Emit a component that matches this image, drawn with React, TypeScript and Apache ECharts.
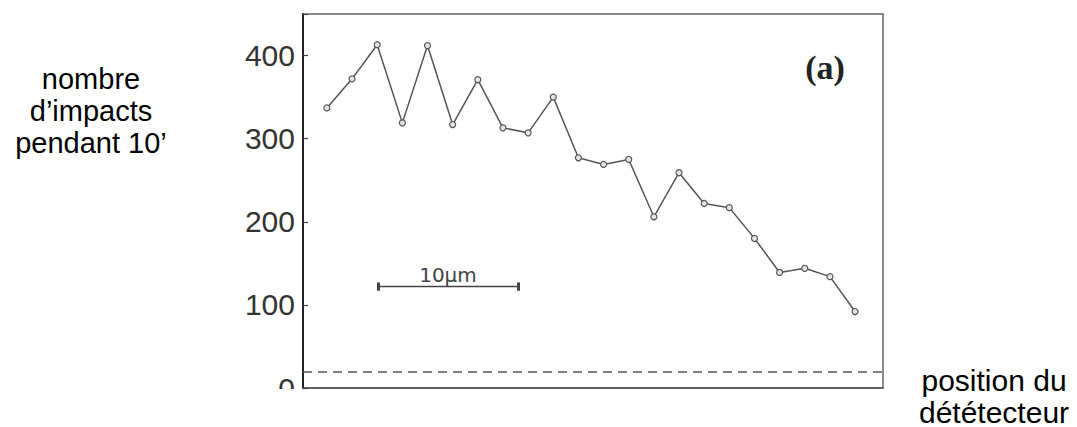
import React, { useEffect, useRef } from "react";
import * as echarts from "echarts";

// Detector positions (index) and counts
const positions = [0, 1, 2, 3, 4, 5, 6, 7, 8, 9, 10, 11, 12, 13, 14, 15, 16, 17, 18, 19, 20, 21];
const impacts = [337, 372, 413, 319, 412, 317, 371, 313, 307, 350, 277, 269, 275, 206, 259, 222, 217, 180, 139, 144, 134, 92];
const yTickLabels = [0, 100, 200, 300, 400];
const backgroundLevel = 20;
const scaleBar = { from: 2.03, to: 7.6, level: 122, label: "10µm" };
const yLabelLines = ["nombre", "d’impacts", "pendant 10’"];
const xLabelLines = ["position du", "dététecteur"];
const panelLabel = "(a)";

export default function App() {
  const ref = useRef<HTMLDivElement>(null);
  useEffect(() => {
    if (!ref.current) return;
    const chart = echarts.init(ref.current, null, { renderer: "svg" });
    const data = positions.map((p, i) => [p, impacts[i]]);
    const barItems: any[] = [
      [
        { coord: [scaleBar.from, scaleBar.level] },
        { coord: [scaleBar.to, scaleBar.level] },
      ],
      [
        { coord: [scaleBar.from, scaleBar.level - 5] },
        { coord: [scaleBar.from, scaleBar.level + 5] },
      ],
      [
        { coord: [scaleBar.to, scaleBar.level - 5] },
        { coord: [scaleBar.to, scaleBar.level + 5] },
      ],
    ].map((d: any[], i: number) => [
      {
        ...d[0],
        lineStyle: { type: "solid", color: "#444", width: i === 0 ? 1.3 : 3 },
        label:
          i === 0
            ? {
                show: true,
                position: "middle",
                formatter: scaleBar.label,
                color: "#444",
                fontFamily: "DejaVu Sans",
                fontSize: 20,
                distance: 2,
              }
            : { show: false },
      },
      d[1],
    ]);
    chart.setOption({
      animation: false,
      backgroundColor: "#ffffff",
      grid: {
        left: 303,
        right: 194,
        top: 14,
        bottom: 39,
        show: true,
        borderColor: "#666",
        borderWidth: 1.5,
        backgroundColor: "transparent",
      },
      xAxis: {
        type: "value",
        min: -0.95,
        max: 22.11,
        axisLabel: { show: false },
        axisTick: { show: false },
        splitLine: { show: false },
        axisLine: { show: true, onZero: false, lineStyle: { color: "#555", width: 1.5 } },
      },
      yAxis: {
        type: "value",
        min: 0,
        max: 450,
        interval: 100,
        splitLine: { show: false },
        axisLine: { show: true, onZero: false, lineStyle: { color: "#222", width: 2 } },
        axisTick: {
          show: true,
          inside: true,
          length: 5,
          lineStyle: { color: "#444", width: 1.2 },
        },
        axisLabel: {
          show: true,
          margin: 8,
          color: "#333",
          fontFamily: "Liberation Sans",
          fontSize: 30,
          formatter: (v: number) => (yTickLabels.indexOf(v) >= 0 ? String(v) : ""),
        },
      },
      series: [
        {
          type: "line",
          data,
          symbol: "circle",
          symbolSize: 6,
          lineStyle: { color: "#555", width: 1.5 },
          itemStyle: { color: "#e4e4e4", borderColor: "#555", borderWidth: 1.2 },
          markLine: {
            silent: true,
            symbol: "none",
            animation: false,
            data: [
              {
                yAxis: backgroundLevel,
                lineStyle: { type: [9, 6], color: "#555", width: 1.5 },
                label: { show: false },
              },
              ...barItems,
            ],
          },
        },
      ],
      graphic: [
        {
          type: "rect",
          left: 240,
          top: 389,
          shape: { width: 60, height: 40 },
          style: { fill: "#ffffff" },
          z: 100,
        },
        {
          type: "text",
          x: 825,
          y: 67,
          style: {
            text: panelLabel,
            fontFamily: "Liberation Serif",
            fontWeight: "bold",
            fontSize: 34,
            fill: "#222",
            align: "center",
            verticalAlign: "middle",
          },
        },
        {
          type: "text",
          x: 91,
          y: 111,
          style: {
            text: yLabelLines.join("\n"),
            fontFamily: "Liberation Sans",
            fontSize: 29,
            lineHeight: 32,
            fill: "#000",
            align: "center",
            verticalAlign: "middle",
          },
        },
        {
          type: "text",
          x: 994,
          y: 396,
          style: {
            text: xLabelLines.join("\n"),
            fontFamily: "Liberation Sans",
            fontSize: 30,
            lineHeight: 32,
            fill: "#000",
            align: "center",
            verticalAlign: "middle",
          },
        },
      ],
    });
    return () => chart.dispose();
  }, []);
  return (
    <div
      ref={ref}
      style={{ position: "fixed", left: 0, top: 0, width: 1077, height: 427, background: "#fff" }}
    />
  );
}
